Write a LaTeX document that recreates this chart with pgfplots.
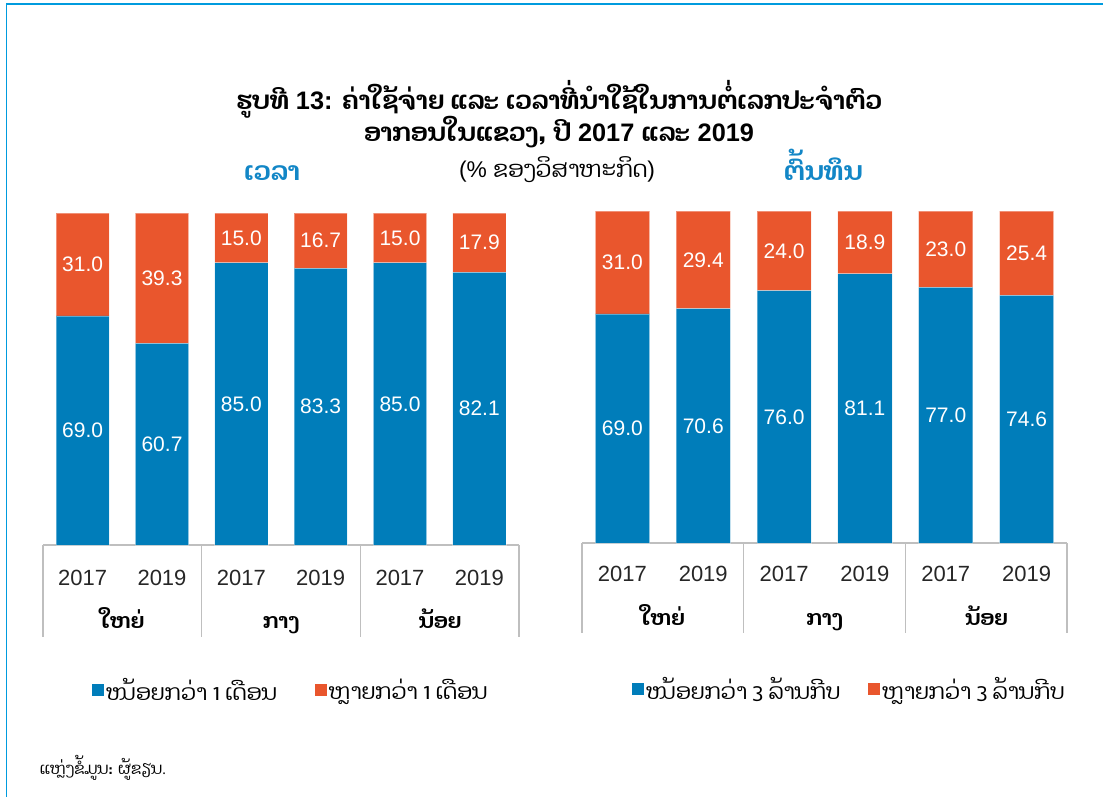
\documentclass[border=0pt]{standalone}
\usepackage{pgfplots}
\usepackage{pgfplotstable}
\pgfplotsset{compat=1.18}
\usepackage{fontspec}
\setmainfont{Liberation Sans}
\newfontfamily\lao[Script=Lao]{Dhyana}
\definecolor{barblue}{RGB}{0,125,186}
\definecolor{barorange}{RGB}{233,86,45}
\definecolor{frameblue}{RGB}{0,155,222}
\definecolor{subblue}{RGB}{18,134,198}
\definecolor{sepgray}{RGB}{191,191,191}
\newcommand\la[1]{{\lao #1}}

\pgfplotstableread{
x less more
0 69.0 31.0
1 60.7 39.3
2 85.0 15.0
3 83.3 16.7
4 85.0 15.0
5 82.1 17.9
}\timedata

\pgfplotstableread{
x less more
0 69.0 31.0
1 70.6 29.4
2 76.0 24.0
3 81.1 18.9
4 77.0 23.0
5 74.6 25.4
}\costdata

\tikzset{
  segA/.style={fill=barblue, draw=white, draw opacity=0.35, line width=0.8pt},
  segB/.style={fill=barorange, draw=white, draw opacity=0.35, line width=0.8pt},
  sepline/.style={sepgray, line width=1.5pt},
  grp/.style={anchor=base, font=\fontsize{21}{25}\selectfont\bfseries\lao},
}
\pgfplotsset{
  geom/.style={scale only axis, height=332pt,
    ymin=0, ymax=100, xmin=-0.5, xmax=5.5, clip=false},
  mybars/.style={
    geom, ybar stacked, bar width=0.67,
    axis x line*=bottom, axis y line=none,
    x axis line style={sepgray, line width=1.5pt, -},
    ytick=\empty, xtick=data, major tick length=0pt,
    xticklabels={2017,2019,2017,2019,2017,2019},
    xticklabel style={anchor=base, font=\fontsize{22}{26}\selectfont, text=black!85},
    legend columns=2,
    legend cell align=left,
    legend image code/.code={\fill[##1,draw=none] (0pt,-6pt) rectangle (12pt,6pt);},
    legend style={draw=none, fill=none, inner sep=0pt, anchor=west,
      font=\fontsize{22}{26}\selectfont\lao},
  },
  mylabels/.style={
    geom, hide axis,
    nodes near coords={\pgfmathprintnumber[fixed,fixed zerofill,precision=1,assume math mode=true]{\pgfplotspointmeta}},
    every node near coord/.style={anchor=center, text=white,
      font=\fontsize{21}{25}\selectfont},
  },
  lab/.style={draw=none, mark=none, point meta=explicit},
}

\begin{document}
\begin{tikzpicture}
\path[use as bounding box] (0,0) rectangle (1103pt,-797pt);
\draw[frameblue, line width=2pt] (6pt,-4.5pt) -- (1103pt,-4.5pt);
\draw[frameblue, line width=1.5pt] (6.5pt,-4pt) -- (6.5pt,-797pt);

\node[anchor=base, font=\fontsize{25.3}{30}\selectfont\bfseries] at (559pt,-110pt)
  {\la{ຮູບທີ} 13: \la{ຄ່າໃຊ້ຈ່າຍ ແລະ ເວລາທີ່ນຳໃຊ້ໃນການຕໍ່ເລກປະຈຳຕົວ}};
\node[anchor=base, font=\fontsize{25.3}{30}\selectfont\bfseries] at (559pt,-142pt)
  {\la{ອາກອນໃນແຂວງ,} \la{ປີ} 2017 \la{ແລະ} 2019};
\node[anchor=base, font=\fontsize{22.8}{27}\selectfont] at (557pt,-178pt)
  {(\% \la{ຂອງວິສາຫະກິດ})};
\node[anchor=base, font=\fontsize{26}{30}\selectfont\bfseries\lao, text=subblue] at (272pt,-180pt) {ເວລາ};
\node[anchor=base, font=\fontsize{26}{30}\selectfont\bfseries\lao, text=subblue] at (823pt,-180pt) {ຕົ້ນທຶນ};

% left chart
\begin{axis}[mybars, width=476pt, at={(43pt,-545pt)}, anchor=south west,
   xticklabel style={yshift=-40pt},
   legend style={at={(0.103,-0.437)},
     /tikz/every even column/.style={column sep=36pt}}]
\addplot[segA] table[x=x, y=less] {\timedata};
\addplot[segB] table[x=x, y=more] {\timedata};
\legend{ໜ້ອຍກວ່າ 1 ເດືອນ, ຫຼາຍກວ່າ 1 ເດືອນ}
\draw[sepline] (axis cs:-0.5,0) -- (axis cs:-0.5,-27.7);
\draw[sepline] (axis cs:1.5,0) -- (axis cs:1.5,-27.7);
\draw[sepline] (axis cs:3.5,0) -- (axis cs:3.5,-27.7);
\draw[sepline] (axis cs:5.5,0) -- (axis cs:5.5,-27.7);
\node[grp] at (axis cs:0.5,-25) {ໃຫຍ່};
\node[grp] at (axis cs:2.5,-25) {ກາງ};
\node[grp] at (axis cs:4.5,-25) {ນ້ອຍ};
\end{axis}
\begin{axis}[mylabels, width=476pt, at={(43pt,-545pt)}, anchor=south west]
\addplot[lab] table[x=x, y expr=\thisrow{less}/2, meta=less] {\timedata};
\addplot[lab] table[x=x, y expr=\thisrow{less}+\thisrow{more}/2, meta=more] {\timedata};
\end{axis}

% right chart
\begin{axis}[mybars, width=485pt, at={(582pt,-543pt)}, anchor=south west,
   xticklabel style={yshift=-38pt},
   legend style={at={(0.103,-0.44)},
     /tikz/every even column/.style={column sep=26pt}}]
\addplot[segA] table[x=x, y=less] {\costdata};
\addplot[segB] table[x=x, y=more] {\costdata};
\legend{ໜ້ອຍກວ່າ 3 ລ້ານກີບ, ຫຼາຍກວ່າ 3 ລ້ານກີບ}
\draw[sepline] (axis cs:-0.5,0) -- (axis cs:-0.5,-27.1);
\draw[sepline] (axis cs:1.5,0) -- (axis cs:1.5,-27.1);
\draw[sepline] (axis cs:3.5,0) -- (axis cs:3.5,-27.1);
\draw[sepline] (axis cs:5.5,0) -- (axis cs:5.5,-27.1);
\node[grp] at (axis cs:0.5,-24.7) {ໃຫຍ່};
\node[grp] at (axis cs:2.5,-24.7) {ກາງ};
\node[grp] at (axis cs:4.5,-24.7) {ນ້ອຍ};
\end{axis}
\begin{axis}[mylabels, width=485pt, at={(582pt,-543pt)}, anchor=south west]
\addplot[lab] table[x=x, y expr=\thisrow{less}/2, meta=less] {\costdata};
\addplot[lab] table[x=x, y expr=\thisrow{less}+\thisrow{more}/2, meta=more] {\costdata};
\end{axis}

\node[anchor=base west, font=\fontsize{16}{20}\selectfont\lao] at (36pt,-774pt) {ແຫຼ່ງຂໍ້ມູນ: ຜູ້ຂຽນ.};
\end{tikzpicture}
\end{document}
